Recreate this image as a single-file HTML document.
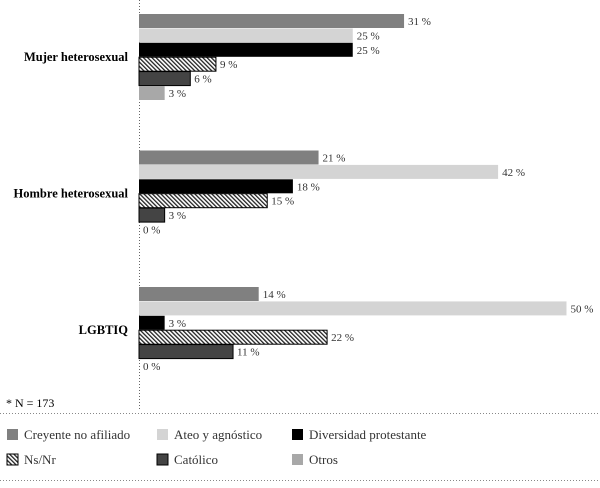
<!DOCTYPE html>
<html><head><meta charset="utf-8"><style>
body{margin:0;background:#fff;}
svg{display:block;}
text{font-family:"Liberation Serif",serif;}
</style></head><body>
<svg width="600" height="488" id="c">
<defs><pattern id="hatch" width="3" height="3" patternUnits="userSpaceOnUse" patternTransform="rotate(-45)"><rect width="3" height="3" fill="#fff"/><rect width="1.3" height="3" fill="#222"/></pattern></defs>
<line x1="139.5" y1="0" x2="139.5" y2="410" stroke="#666" stroke-dasharray="1,2"/>
<text x="6" y="407" font-size="12">* N = 173</text>
<line x1="0" y1="413.5" x2="600" y2="413.5" stroke="#888" stroke-dasharray="1,2"/>
<line x1="0" y1="480.5" x2="600" y2="480.5" stroke="#888" stroke-dasharray="1,2"/>
<g id="bars"></g>
<g id="legend"></g>
</svg>
<script>
const categories=["Mujer heterosexual","Hombre heterosexual","LGBTIQ"];
const seriesNames=["Creyente no afiliado","Ateo y agnóstico","Diversidad protestante","Ns/Nr","Católico","Otros"];
const creyente=[31,21,14];
const ateo=[25,42,50];
const protestante=[25,18,3];
const nsnr=[9,15,22];
const catolico=[6,3,11];
const otros=[3,0,0];
const series=[creyente,ateo,protestante,nsnr,catolico,otros];
const fills=["#808080","#d4d4d4","#000","url(#hatch)","#444","#a8a8a8"];
const strokes=["none","none","none","#000","#000","none"];
const NS="http://www.w3.org/2000/svg";
const x=v=>139+v*8.55;
const groupTop=g=>14+g*136.5;
const barY=(g,s)=>groupTop(g)+s*14.4;
const bars=document.getElementById('bars');
function mk(tag,attrs,parent){const e=document.createElementNS(NS,tag);for(const k in attrs)e.setAttribute(k,attrs[k]);parent.appendChild(e);return e;}
categories.forEach((c,g)=>{
  const t=mk('text',{x:128,y:groupTop(g)+47,'text-anchor':'end','font-size':12.5,'font-weight':'bold'},bars);
  t.textContent=c;
  
  
  series.forEach((arr,s)=>{
    const v=arr[g];const y=barY(g,s);
    if(v>0){
      const r=mk('rect',{x:139,y:y,width:x(v)-139,height:14,fill:fills[s],stroke:strokes[s],'stroke-width':strokes[s]=='none'?0:1},bars);
      
      
    }
    const l=mk('text',{x:x(v)+4,y:y+11,'font-size':11,fill:'#333'},bars);
    l.textContent=v+' %';
    
    
  });
});
const lg=document.getElementById('legend');
const lx=[7,157,292], ly=[429,454];
seriesNames.forEach((n,i)=>{
  const cx=lx[i%3], cy=ly[Math.floor(i/3)];
  const g=mk('g',{},lg);
  
  
  mk('rect',{x:cx,y:cy,width:11,height:11,fill:fills[i],stroke:strokes[i],'stroke-width':strokes[i]=='none'?0:1},g);
  const t=mk('text',{x:cx+17,y:cy+10,'font-size':13,fill:'#333'},g);
  t.textContent=n;
});
</script>
</body></html>
